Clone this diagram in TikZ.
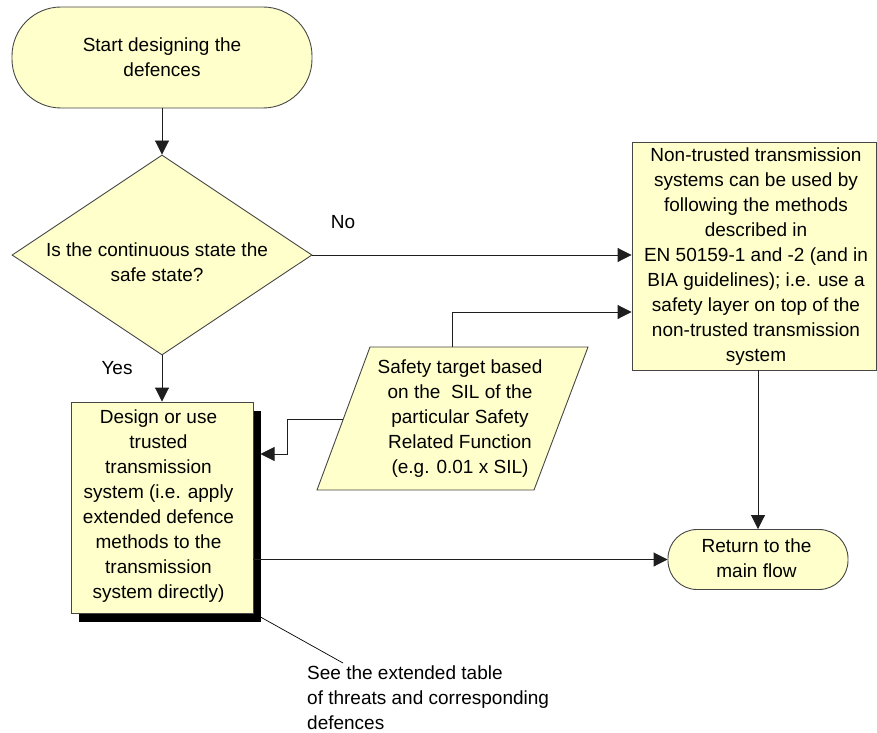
\documentclass[tikz,border=0pt]{standalone}
\usepackage{fontspec}
\setmainfont{Liberation Sans}
\usetikzlibrary{shapes.geometric,arrows.meta,shadows,calc}
\definecolor{boxfill}{RGB}{255,255,204}
\definecolor{boxline}{RGB}{70,70,70}
\definecolor{wire}{RGB}{30,30,30}
\begin{document}
\begin{tikzpicture}[x=1bp,y=-1bp,
  txt/.style={font=\fontsize{19bp}{25bp}\selectfont, align=center, inner sep=0pt},
  shapebox/.style={draw=boxline, fill=boxfill, line width=0.9bp},
  termbox/.style={shapebox, rectangle, inner sep=0pt},
  procbox/.style={shapebox, rectangle, inner sep=0pt},
  decbox/.style={shapebox, diamond, inner sep=0pt, minimum width=300bp, minimum height=200bp},
  arr/.style={draw=wire, line width=0.9bp, -{Triangle[length=14bp,width=14bp]}},
  wireline/.style={draw=wire, line width=0.9bp},
]
\useasboundingbox (0,0) rectangle (877,733);

% start terminal
\node[termbox, rounded corners=49bp, minimum width=300bp, minimum height=101bp] (start) at (162,57.5) {};
\node[txt] (starttxt) at (162,57.5) {Start designing the\\defences};

% decision
\node[decbox] (q) at (162,255) {};
\node[txt] (qtxt) at (157,262.5) {Is the continuous state the\\safe state?};

% non-trusted transmission box
\node[procbox, minimum width=244bp, minimum height=228bp] (nt) at (754,256) {};
\node[txt] (nttxt) at (756,257) {Non-trusted transmission\\systems can be used by\\following the methods\\described in\\EN 50159-1 and -2 (and in\\BIA guidelines); i.e. use a\\safety layer on top of the\\non-trusted transmission\\system};

% trusted transmission box with its heavy shadow
\node[procbox, minimum width=182bp, minimum height=211bp,
      drop shadow={shadow xshift=7.5bp, shadow yshift=-8.5bp, fill=black, opacity=1}] (d) at (162,507.5) {};
\node[txt] (dtxt) at (158.5,506) {Design or use\\trusted\\transmission\\system (i.e. apply\\extended defence\\methods to the\\transmission\\system directly)};

% safety target data (parallelogram)
\draw[shapebox] (370,347) -- (588,347) -- (534,490) -- (317,490) -- cycle;
\node[txt] (ptxt) at (460,419) {Safety target based\\on the \ SIL of the\\particular Safety\\Related Function\\(e.g. 0.01 x SIL)};
\coordinate (ptop) at (452,347);
\coordinate (pleft) at (343.3,419);
\coordinate (dshadow) at (260.5,454);

% return terminal
\node[termbox, rounded corners=29bp, minimum width=180bp, minimum height=60bp] (ret) at (758,559.5) {};
\node[txt] (rettxt) at (756.5,558) {Return to the\\main flow};

% connectors
\draw[arr] (start.south) -- (q.north);
\draw[arr] (q.east) -- (q.east -| nt.west);
\draw[arr] (q.south) -- (d.north);
\draw[arr] (ptop) |- ([yshift=-56bp]nt.west);
\draw[arr] (pleft) -- (287,419) |- (dshadow);
\draw[arr] (nt.south -| ret.north) -- (ret.north);
\draw[arr] (d.east |- ret.west) -- (ret.west);

% branch labels
\node[txt] (no) at (343,222) {No};
\node[txt] (yes) at (117,368) {Yes};

% annotation
\coordinate (dcorner) at (260.5,617);
\node[txt, align=left, anchor=north west] (note) at (307,666) {See the extended table\\of threats and corresponding\\defences};
\draw[draw=black, line width=0.7bp] (dcorner) -- (343,663);
\end{tikzpicture}
\end{document}
